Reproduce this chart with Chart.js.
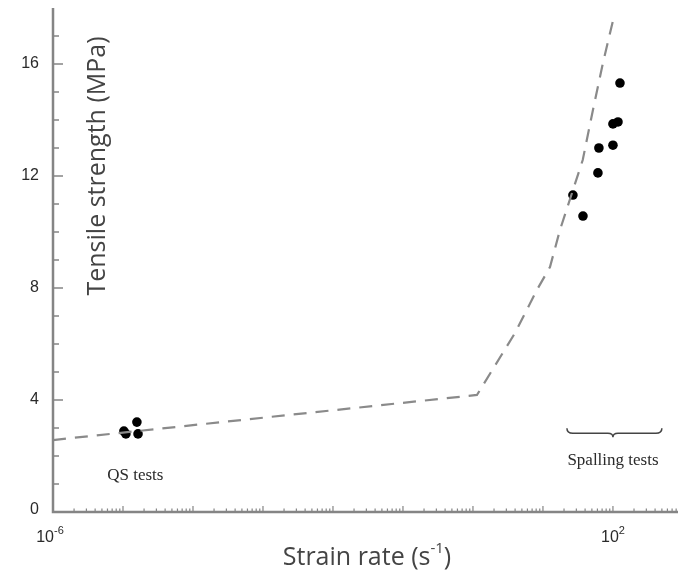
<!DOCTYPE html>
<html>
<head>
<meta charset="utf-8">
<script src="https://cdn.jsdelivr.net/npm/chart.js@4"></script>
<style>
html,body{margin:0;padding:0;background:#fff;}
#wrap{width:678px;height:574px;position:relative;}
</style>
</head>
<body>
<div id="wrap"><canvas id="chart"></canvas></div>
<script>
// fitted trend (dashed)
const lineRate = [1e-6, 1.14, 3.98, 8.2, 12.6, 17.5, 37, 51.8, 72, 103];
const lineStrength = [2.57, 4.18, 6.39, 7.93, 8.75, 10.07, 12.57, 14.36, 16.04, 17.68];
// quasi-static tests
const qsRate = [1.03e-5, 1.1e-5, 1.64e-5, 1.58e-5];
const qsStrength = [2.89, 2.79, 2.79, 3.21];
// spalling tests
const spRate = [126, 100, 118, 100, 63, 61, 26.8, 37.3];
const spStrength = [15.32, 13.86, 13.93, 13.1, 13.0, 12.11, 11.32, 10.57];
// axis ticks
const yTicks = [0, 4, 8, 12, 16];
const xTickExp = [-6, 2];

const pts = (xs, ys) => xs.map((x, i) => ({x: x, y: ys[i]}));

const axisGray = "#858585";
const textGray = "#2a2a2a";
const tickFont = "16px 'Liberation Sans', Arial, sans-serif";
const tickSupFont = "11px 'Liberation Sans', Arial, sans-serif";
const titleFont = "25px 'Open Sans', 'Noto Sans', sans-serif";
const supFont = "15px 'Open Sans', 'Noto Sans', sans-serif";

const axesPlugin = {
  id: "axesDraw",
  afterDraw(chart) {
    const c = chart.ctx, xs = chart.scales.x, ys = chart.scales.y;
    const x0 = xs.getPixelForValue(1e-6), y0 = ys.getPixelForValue(0);
    const yTop = ys.getPixelForValue(18), xEnd = chart.chartArea.right;
    c.save();
    c.strokeStyle = axisGray;
    c.lineWidth = 2.5;
    c.beginPath();
    c.moveTo(x0, yTop); c.lineTo(x0, y0); c.lineTo(xEnd, y0);
    c.stroke();
    // y ticks (inward)
    c.lineWidth = 1.5;
    for (let v = 1; v <= 17; v++) {
      const py = ys.getPixelForValue(v), len = v % 4 == 0 ? 10 : 6;
      c.beginPath(); c.moveTo(x0, py); c.lineTo(x0 + len, py); c.stroke();
    }
    // x ticks (inward)
    c.lineWidth = 1.2;
    for (let d = -6; d <= 2; d++) {
      for (let m = 1; m <= 9; m++) {
        const v = m * Math.pow(10, d);
        if (v > xs.max) break;
        const px = xs.getPixelForValue(v);
        if (px < x0 + 2) continue;
        const len = m == 1 ? 6 : 3.5;
        c.beginPath(); c.moveTo(px, y0); c.lineTo(px, y0 - len); c.stroke();
      }
    }
    // y tick labels
    c.fillStyle = textGray;
    c.font = tickFont;
    c.textAlign = "right"; c.textBaseline = "middle";
    yTicks.forEach(v => c.fillText(String(v), 39, ys.getPixelForValue(v) + (v == 0 ? -2 : 0)));
    // x tick labels with superscript
    xTickExp.forEach(e => {
      const px = xs.getPixelForValue(Math.pow(10, e));
      const base = "10", sup = e < 0 ? "-" + (-e) : String(e);
      c.font = tickFont;
      const wb = c.measureText(base).width;
      c.font = tickSupFont;
      const ws = c.measureText(sup).width;
      let left = px - (wb + ws) / 2 + (e < 0 ? -3 : 0);
      c.textAlign = "left"; c.textBaseline = "alphabetic";
      c.font = tickFont;
      c.fillText(base, left, y0 + 30);
      c.font = tickSupFont;
      c.fillText(sup, left + wb, y0 + 22);
    });
    // axis titles
    c.fillStyle = "#444";
    c.font = titleFont;
    c.textAlign = "center"; c.textBaseline = "middle";
    c.save();
    c.translate(98, 166);
    c.rotate(-Math.PI / 2);
    c.fillText("Tensile strength (MPa)", 0, 0);
    c.restore();
    const t1 = "Strain rate (s", t2 = "-1", t3 = ")";
    c.font = titleFont;
    const w1 = c.measureText(t1).width, w3 = c.measureText(t3).width;
    c.font = supFont;
    const w2 = c.measureText(t2).width;
    let lx = 367 - (w1 + w2 + w3) / 2;
    c.textAlign = "left"; c.textBaseline = "alphabetic";
    c.font = titleFont;
    c.fillText(t1, lx, 565);
    c.font = supFont;
    c.fillText(t2, lx + w1, 553);
    c.font = titleFont;
    c.fillText(t3, lx + w1 + w2, 565);
    // annotations
    c.fillStyle = textGray;
    c.font = "17px 'Liberation Serif', 'Times New Roman', serif";
    c.textAlign = "center"; c.textBaseline = "middle";
    c.fillText("QS tests", xs.getPixelForValue(1.5e-5), ys.getPixelForValue(1.3));
    c.fillText("Spalling tests", xs.getPixelForValue(100), ys.getPixelForValue(1.85));
    // brace
    const bl = xs.getPixelForValue(22), br = xs.getPixelForValue(500), bm = xs.getPixelForValue(100);
    const by = ys.getPixelForValue(2.85);
    c.strokeStyle = "#444"; c.lineWidth = 1.5;
    c.beginPath();
    c.moveTo(bl, by - 4);
    c.quadraticCurveTo(bl, by + 1, bl + 6, by + 1);
    c.lineTo(bm - 5, by + 1);
    c.quadraticCurveTo(bm, by + 1, bm, by + 5);
    c.quadraticCurveTo(bm, by + 1, bm + 5, by + 1);
    c.lineTo(br - 6, by + 1);
    c.quadraticCurveTo(br, by + 1, br, by - 4);
    c.stroke();
    c.restore();
  }
};

new Chart(document.getElementById("chart").getContext("2d"), {
  type: "scatter",
  data: {
    datasets: [
      {label: "trend", data: pts(lineRate, lineStrength), showLine: true, borderColor: "#8a8a8a",
       borderWidth: 2.2, borderDash: [13, 9], pointRadius: 0, tension: 0, fill: false},
      {label: "QS", data: pts(qsRate, qsStrength), pointRadius: 4.8, backgroundColor: "#000", borderColor: "#000", borderWidth: 0},
      {label: "Spalling", data: pts(spRate, spStrength), pointRadius: 4.8, backgroundColor: "#000", borderColor: "#000", borderWidth: 0}
    ]
  },
  options: {
    responsive: true, maintainAspectRatio: false, animation: false,
    layout: {autoPadding: false, padding: {left: 53, right: 0, top: 8, bottom: 62}},
    plugins: {legend: {display: false}, tooltip: {enabled: false}},
    scales: {
      x: {type: "logarithmic", min: 1e-6, max: 850, display: false},
      y: {type: "linear", min: 0, max: 18, display: false}
    }
  },
  plugins: [axesPlugin]
});
</script>
</body>
</html>
